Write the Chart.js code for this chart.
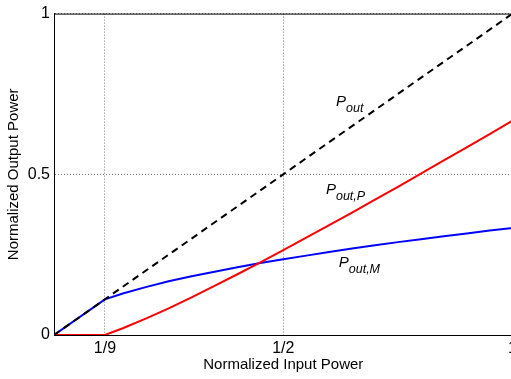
<!DOCTYPE html>
<html>
<head>
<meta charset="utf-8">
<script src="https://cdn.jsdelivr.net/npm/chart.js@4.4.1/dist/chart.umd.min.js"></script>
<style>
  html, body { margin: 0; padding: 0; background: #fff; overflow: hidden; }
  #wrap { position: relative; width: 521px; height: 379px; }
</style>
</head>
<body>
<div id="wrap"><canvas id="power-chart"></canvas></div>
<script>

// data =================================================

const inputPower = [0, 0.111, 0.15, 0.2, 0.25, 0.3, 0.35, 0.4, 0.45, 0.5, 0.55, 0.6, 0.65, 0.7, 0.75, 0.8, 0.85, 0.9, 0.95, 1];
const mainPower = [0, 0.111, 0.129, 0.149, 0.167, 0.183, 0.197, 0.211, 0.224, 0.236, 0.247, 0.258, 0.269, 0.279, 0.289, 0.298, 0.307, 0.316, 0.325, 0.333];
const peakPower = [0, 0, 0.021, 0.051, 0.083, 0.117, 0.153, 0.189, 0.226, 0.264, 0.303, 0.342, 0.381, 0.421, 0.461, 0.502, 0.543, 0.584, 0.625, 0.667];

const totalInput = [0, 1];
const totalOutput = [0, 1];

const xTicks = [1 / 9, 1 / 2, 1];
const xTickLabels = ['1/9', '1/2', '1'];
const yTicks = [0, 0.5, 1];

const curveLabels = [
  { main: 'P', sub: 'out', x: 0.615, y: 0.713 },
  { main: 'P', sub: 'out,P', x: 0.593, y: 0.438 },
  { main: 'P', sub: 'out,M', x: 0.621, y: 0.213 }
];

const toPoints = (xs, ys) => xs.map((x, i) => ({ x: x, y: ys[i] }));

// frame + curve labels ==================================

const framePlugin = {
  id: 'frame',
  beforeDatasetsDraw(chart) {
    const { ctx, chartArea } = chart;
    ctx.save();
    ctx.strokeStyle = '#000';
    ctx.lineWidth = 1;
    ctx.beginPath();
    ctx.moveTo(chartArea.left, chartArea.top + 0.5);
    ctx.lineTo(chartArea.right, chartArea.top + 0.5);
    ctx.lineTo(chartArea.right, chartArea.bottom);
    ctx.stroke();
    ctx.restore();
  }
};

const labelPlugin = {
  id: 'curveLabels',
  afterDatasetsDraw(chart) {
    const { ctx, scales } = chart;
    ctx.save();
    ctx.fillStyle = '#000';
    ctx.textBaseline = 'alphabetic';
    ctx.textAlign = 'left';
    curveLabels.forEach(l => {
      const px = scales.x.getPixelForValue(l.x);
      const py = scales.y.getPixelForValue(l.y);
      ctx.font = 'italic 15px "Liberation Sans", Arial, sans-serif';
      ctx.fillText(l.main, px, py);
      const w = ctx.measureText(l.main).width;
      ctx.font = 'italic 12.5px "Liberation Sans", Arial, sans-serif';
      ctx.fillText(l.sub, px + w, py + 6);
    });
    ctx.restore();
  }
};

// chart =================================================

const axisFont = { family: '"Liberation Sans", Arial, sans-serif', size: 16 };
const titleFont = { family: '"Liberation Sans", Arial, sans-serif', size: 15 };

const powerChart = new Chart(document.getElementById('power-chart'), {
  type: 'line',
  data: {
    datasets: [{
      data: toPoints(totalInput, totalOutput),
      borderColor: '#000',
      borderWidth: 2,
      borderDash: [7, 5],
      pointRadius: 0,
      fill: false
    }, {
      data: toPoints(inputPower, peakPower),
      borderColor: '#ff0000',
      borderWidth: 2,
      pointRadius: 0,
      fill: false
    }, {
      data: toPoints(inputPower, mainPower),
      borderColor: '#0000ff',
      borderWidth: 2,
      pointRadius: 0,
      fill: false
    }]
  },
  options: {
    responsive: true,
    maintainAspectRatio: false,
    animation: false,
    layout: { padding: { left: 0, top: 11, right: 7, bottom: 0 } },
    plugins: {
      legend: { display: false },
      tooltip: { enabled: false }
    },
    scales: {
      x: {
        type: 'linear',
        min: 0,
        max: 1,
        afterBuildTicks: scale => { scale.ticks = xTicks.map(v => ({ value: v })); },
        afterFit: scale => { scale.height = 44; },
        ticks: {
          color: '#000',
          font: axisFont,
          padding: 4,
          maxRotation: 0,
          callback: (v, i) => xTickLabels[i]
        },
        grid: { color: '#777', lineWidth: 1, drawTicks: false },
        border: { color: '#000', width: 1, dash: [1, 2] },
        title: {
          display: true,
          text: 'Normalized Input Power',
          color: '#000',
          font: titleFont,
          padding: { top: 0, bottom: 5 }
        }
      },
      y: {
        type: 'linear',
        min: 0,
        max: 1,
        afterBuildTicks: scale => { scale.ticks = yTicks.map(v => ({ value: v })); },
        afterFit: scale => { scale.width = 54; },
        ticks: {
          color: '#000',
          font: axisFont,
          padding: 4,
          callback: v => String(v)
        },
        grid: { color: '#777', lineWidth: 1, drawTicks: false },
        border: { color: '#000', width: 1, dash: [1, 2] },
        title: {
          display: true,
          text: 'Normalized Output Power',
          color: '#000',
          font: titleFont,
          padding: { top: 5, bottom: 0 }
        }
      }
    }
  },
  plugins: [framePlugin, labelPlugin]
});
</script>
</body>
</html>
